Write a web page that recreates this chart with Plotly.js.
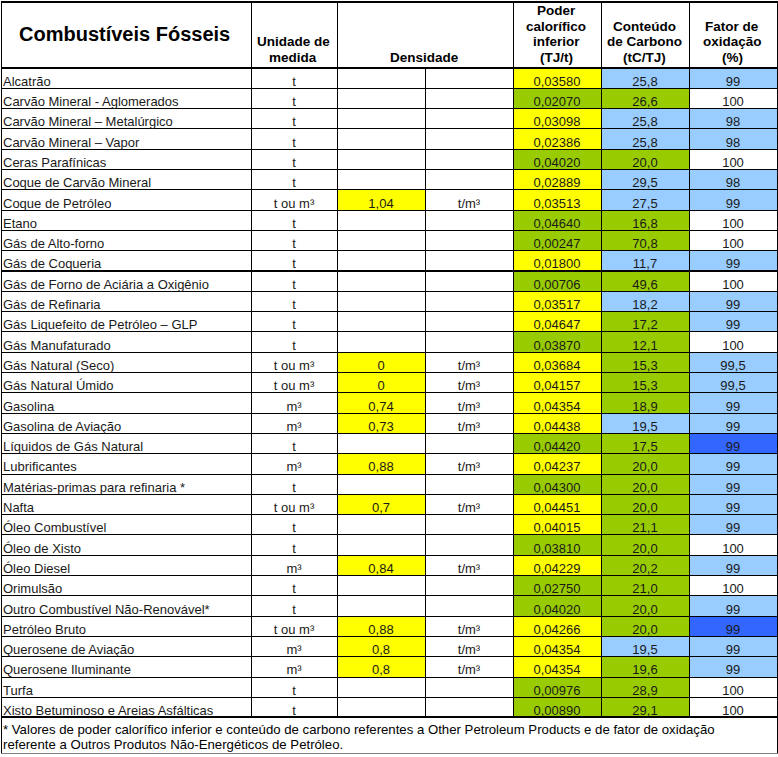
<!DOCTYPE html>
<html><head><meta charset="utf-8">
<script src="https://cdn.plot.ly/plotly-3.0.1.min.js"></script>
<style>html,body{margin:0;padding:0;background:#fff;overflow:hidden}
#chart{position:absolute;left:-6px;top:0;width:784px;height:757px}</style>
</head><body><div id="chart"></div>
<script>
// ---------- data ----------
const fuels = [
  "Alcatrão","Carvão Mineral - Aglomerados","Carvão Mineral – Metalúrgico","Carvão Mineral – Vapor",
  "Ceras Parafínicas","Coque de Carvão Mineral","Coque de Petróleo","Etano","Gás de Alto-forno",
  "Gás de Coqueria","Gás de Forno de Aciária a Oxigênio","Gás de Refinaria","Gás Liquefeito de Petróleo – GLP",
  "Gás Manufaturado","Gás Natural (Seco)","Gás Natural Úmido","Gasolina","Gasolina de Aviação",
  "Líquidos de Gás Natural","Lubrificantes","Matérias-primas para refinaria *","Nafta","Óleo Combustível",
  "Óleo de Xisto","Óleo Diesel","Orimulsão","Outro Combustível Não-Renovável*","Petróleo Bruto",
  "Querosene de Aviação","Querosene Iluminante","Turfa","Xisto Betuminoso e Areias Asfálticas"
];
const units = [
  "t","t","t","t","t","t","t ou m³","t","t","t","t","t","t","t","t ou m³","t ou m³","m³","m³",
  "t","m³","t","t ou m³","t","t","m³","t","t","t ou m³","m³","m³","t","t"
];
const densities = [
  "","","","","","","1,04","","","","","","","","0","0","0,74","0,73",
  "","0,88","","0,7","","","0,84","","","0,88","0,8","0,8","",""
];
const densityUnits = [
  "","","","","","","t/m³","","","","","","","","t/m³","t/m³","t/m³","t/m³",
  "","t/m³","","t/m³","","","t/m³","","","t/m³","t/m³","t/m³","",""
];
const pci = [
  "0,03580","0,02070","0,03098","0,02386","0,04020","0,02889","0,03513","0,04640","0,00247",
  "0,01800","0,00706","0,03517","0,04647","0,03870","0,03684","0,04157","0,04354","0,04438",
  "0,04420","0,04237","0,04300","0,04451","0,04015","0,03810","0,04229","0,02750","0,04020",
  "0,04266","0,04354","0,04354","0,00976","0,00890"
];
const carbon = [
  "25,8","26,6","25,8","25,8","20,0","29,5","27,5","16,8","70,8","11,7","49,6","18,2","17,2",
  "12,1","15,3","15,3","18,9","19,5","17,5","20,0","20,0","20,0","21,1","20,0","20,2","21,0",
  "20,0","20,0","19,5","19,6","28,9","29,1"
];
const oxidation = [
  "99","100","98","98","100","98","99","100","100","99","100","99","99","100","99,5","99,5",
  "99","99","99","99","99","99","99","100","99","100","99","99","99","99","100","100"
];
const headerLabels = [
  ["Combustíveis Fósseis"], ["Unidade de","medida"], ["Densidade"],
  ["Poder","calorífico","inferior","(TJ/t)"], ["Conteúdo","de Carbono","(tC/TJ)"], ["Fator de","oxidação","(%)"]
];
const footnoteLines = [
  "* Valores de poder calorífico inferior e conteúdo de carbono referentes a Other Petroleum Products e de fator de oxidação",
  "referente a Outros Produtos Não-Energéticos de Petróleo."
];

// ---------- styles (cell highlight codes) ----------
const pciCode = "YGYYGYYGGYGYYGYYYYGYGYYGYGGYYYGG".split("");
const carbonCode = "LGLLGLLGGLGLGGGGGLGGGGGGGGGGLGGG".split("");
const oxCode = "LWLLWLLWWLWLLWLLLLDLLLLWLWLDLLWW".split("");
const palette = {Y:"#FFFF00", G:"#99CC00", L:"#99CCFF", D:"#3366FF", W:"#FFFFFF"};

const W = 784, H = 757, SHIFT = 6;            // div is shifted 6px left in the window
const M = {l:0, r:1, t:1, b:3};
const PW = W - M.l - M.r, PH = H - M.t - M.b;
const rowH = 20.3;
const font = "Liberation Sans, Arial, sans-serif";
const txt = "#1a1a1a";
const colW = [250, 86, 88, 88, 88, 88, 88];
const clear = "rgba(0,0,0,0)";
const n = fuels.length;
const white = new Array(n).fill("#FFFFFF");
const densFill = densities.map(d => d ? palette.Y : "#FFFFFF");

const xDom = [(SHIFT + 1) / PW, 1];
const yDom = (top, bot) => [Math.max(0, 1 - bot / PH), Math.min(1, 1 - top / PH)];
const tinyHeader = k => ({values: new Array(k).fill(""), height: 1,
  fill: {color: "#FFFFFF"}, line: {color: "#000", width: 1}});

// header boxes (Densidade spans two columns)
const headerBox = {
  type: "table", domain: {x: xDom, y: yDom(0, 67.5)},
  columnwidth: [250, 86, 176, 88, 88, 88],
  header: tinyHeader(6),
  cells: {values: headerLabels.map(() => [""]), height: 66,
    fill: {color: "#FFFFFF"}, line: {color: "#000", width: 1}}
};

const bodyTop = 66, bodyEnd = bodyTop + 1 + n * rowH;
const body = {
  type: "table", domain: {x: xDom, y: yDom(bodyTop, bodyEnd + 1)},
  columnwidth: colW,
  header: tinyHeader(7),
  cells: {
    values: [fuels.map(() => ""), units, densities, densityUnits, pci, carbon, oxidation],
    height: rowH,
    align: "center",
    font: {family: font, size: 13, color: txt},
    fill: {color: [white, white, densFill, white,
      pciCode.map(c => palette[c]), carbonCode.map(c => palette[c]), oxCode.map(c => palette[c])]},
    line: {color: "#000", width: 1}
  }
};
// fuel names, left aligned, tighter left padding than the table default
const names = {
  type: "table", domain: {x: [1 / PW, 251 / PW], y: yDom(bodyTop, bodyEnd + 1)},
  columnwidth: [1],
  header: {values: [""], height: 1, fill: {color: clear}, line: {color: clear, width: 0}},
  cells: {values: [fuels], height: rowH, align: "left",
    font: {family: font, size: 13, color: txt},
    fill: {color: clear}, line: {color: clear, width: 0}}
};

const noteTop = bodyEnd - 1;
const note = {
  type: "table", domain: {x: xDom, y: yDom(noteTop, PH)},
  columnwidth: [1],
  header: tinyHeader(1),
  cells: {values: [[""]], height: PH - noteTop - 1,
    fill: {color: "#FFFFFF"}, line: {color: "#000", width: 1}}
};

// header text: one annotation per line
const hx = [124, 293, 424, 556, 644, 732];
const annotations = [];
headerLabels.forEach((lines, i) => {
  lines.forEach((t, k) => {
    const fromBottom = lines.length - 1 - k;
    const cy = i === 0 ? 34 : 57.5 - fromBottom * 15.7;
    annotations.push({
      text: "<b>" + t + "</b>", xref: "paper", yref: "paper",
      x: (hx[i] + SHIFT) / PW, xanchor: "center",
      y: 1 - (cy - 1) / PH, yanchor: "middle", showarrow: false,
      font: {family: font, size: i === 0 ? 20 : 13.5, color: "#000"}
    });
  });
});
footnoteLines.forEach((t, k) => {
  annotations.push({
    text: t, xref: "paper", yref: "paper",
    x: (1 + SHIFT) / PW, xanchor: "left",
    y: 1 - (729 + k * 15 - 1) / PH, yanchor: "middle",
    showarrow: false, align: "left",
    font: {family: font, size: 13.2, color: "#000"}
  });
});

Plotly.newPlot("chart", [headerBox, body, names, note], {
  width: W, height: H, margin: M,
  paper_bgcolor: "#FFFFFF",
  annotations: annotations
}, {displayModeBar: false, staticPlot: true});
</script></body></html>
